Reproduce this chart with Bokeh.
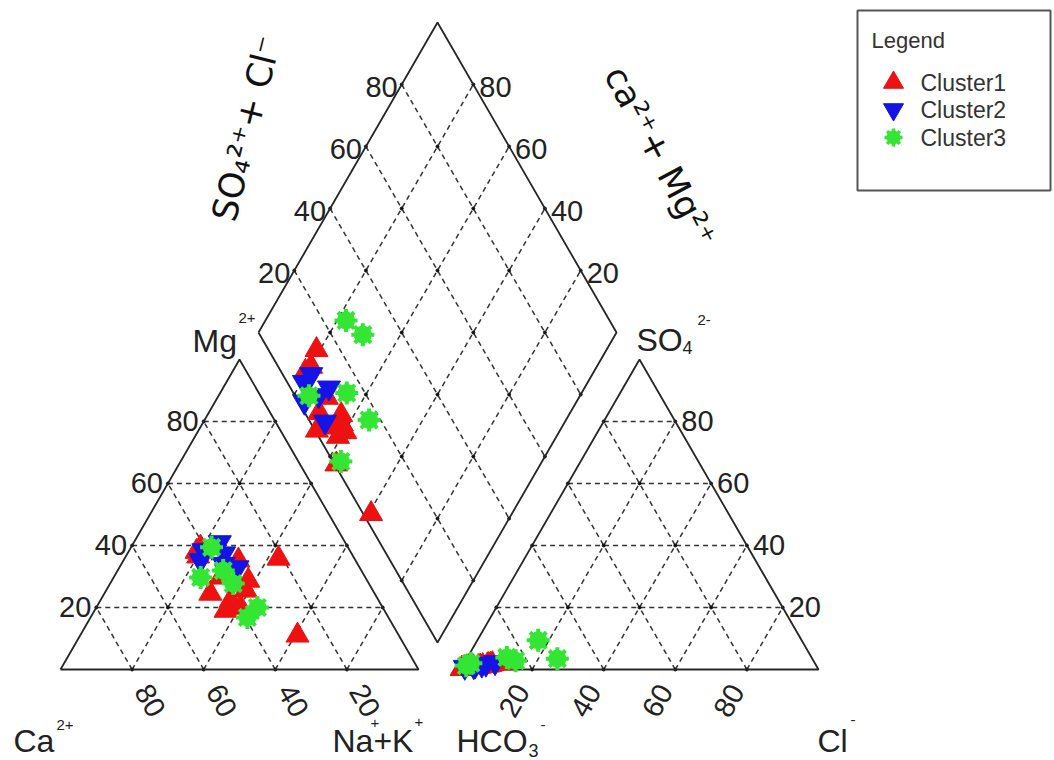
import numpy as np
from bokeh.plotting import figure
from bokeh.models import Range1d
from bokeh.core.properties import value
from bokeh.embed import file_html
from bokeh.resources import INLINE

# ---------------- data (percent of meq) ----------------
clusters = ["Cluster1", "Cluster2", "Cluster3"]

c1_ca   = [41.2, 43.0, 43.3, 45.9, 40.4, 32.7, 41.3, 44.4, 33.2, 35.5, 39.7, 21.2, 28.3]
c1_mg   = [39.4, 38.0, 36.5, 24.5, 29.7, 35.2, 22.3, 19.0, 28.7, 25.5, 20.0, 35.8, 11.0]
c1_nak  = [19.4, 19.0, 20.2, 29.6, 29.9, 32.1, 36.4, 36.6, 38.1, 39.0, 40.3, 43.0, 60.7]
c1_hco3 = [93.2, 86.6, 90.8, 91.4, 96.0, 99.5, 90.2, 94.0, 91.5, 94.6, 91.8, 99.5, 97.8]
c1_so4  = [1.2, 2.0, 1.6, 1.4, 0.8, 0.3, 1.8, 1.0, 1.5, 0.9, 1.4, 0.2, 0.8]
c1_cl   = [5.6, 11.4, 7.6, 7.2, 3.2, 0.2, 8.0, 5.0, 7.0, 4.5, 6.8, 0.3, 1.4]

c2_ca   = [40.9, 43.3, 35.0, 35.6, 37.4, 34.1]
c2_mg   = [38.4, 35.2, 41.0, 37.4, 34.0, 32.9]
c2_nak  = [20.7, 21.5, 24.0, 27.0, 28.6, 33.0]
c2_hco3 = [95.3, 92.0, 98.4, 93.3, 89.2, 95.8]
c2_so4  = [1.2, 1.8, 0.8, 1.5, 2.3, 1.0]
c2_cl   = [3.5, 6.2, 0.8, 5.2, 8.5, 3.2]

c3_ca   = [38.1, 38.6, 46.0, 37.9, 35.0, 39.4]
c3_mg   = [39.4, 31.9, 29.7, 27.7, 20.0, 16.8]
c3_nak  = [22.5, 29.5, 24.3, 34.4, 45.0, 43.8]
c3_hco3 = [73.6, 71.2, 96.1, 85.1, 83.2, 97.8]
c3_so4  = [9.4, 3.5, 2.0, 3.9, 2.8, 1.2]
c3_cl   = [17.0, 25.3, 1.9, 11.0, 14.0, 1.0]

tick_values = [20, 40, 60, 80]
tick_labels = ["20", "40", "60", "80"]

# ---------------- layout (screen px) ----------------
W, H = 1054, 760
S = 3.58                      # px per percent along a side
HT = S * np.sqrt(3) / 2       # px per percent in height
L_X0, BASE = 60, 669          # cation triangle, Ca corner
R_X0 = 460                    # anion triangle, HCO3 corner
D_LX, D_MID = 258, 332        # diamond left vertex

RED, BLUE, GREEN = "#ee1111", "#1414e6", "#33e633"
INK = "#222222"
FONT = "Liberation Sans"


def flip(py):
    return H - np.asarray(py, dtype=float)


def cat_xy(mg, nak):
    mg = np.asarray(mg, float); nak = np.asarray(nak, float)
    return L_X0 + S * (nak + mg / 2), flip(BASE - HT * mg)


def an_xy(so4, cl):
    so4 = np.asarray(so4, float); cl = np.asarray(cl, float)
    return R_X0 + S * (cl + so4 / 2), flip(BASE - HT * so4)


def dia_xy(u, v):  # u = SO4+Cl, v = Na+K
    u = np.asarray(u, float); v = np.asarray(v, float)
    return D_LX + S / 2 * (u + v), flip(D_MID - HT * u + HT * v)


def all_xy(mg, nak, so4, cl):
    cx, cy = cat_xy(mg, nak)
    ax, ay = an_xy(so4, cl)
    dx, dy = dia_xy(np.add(so4, cl), nak)
    return (np.concatenate([cx, ax, dx]).tolist(),
            np.concatenate([cy, ay, dy]).tolist())


p = figure(width=W, height=H, x_range=Range1d(0, W), y_range=Range1d(0, H),
           x_axis_type=None, y_axis_type=None, toolbar_location=None,
           output_backend="svg", min_border=0, outline_line_color=None,
           background_fill_color="white", border_fill_color="white")
p.grid.visible = False

# ---------------- grids ----------------
gx, gy = [], []
def seg(f, a, b):
    x, y = f([a[0], b[0]], [a[1], b[1]])
    gx.append(list(x)); gy.append(list(y))

for k in tick_values:
    seg(cat_xy, (k, 0), (k, 100 - k))
    seg(cat_xy, (0, k), (100 - k, k))
    seg(cat_xy, (0, 100 - k), (100 - k, 0))
    seg(an_xy, (k, 0), (k, 100 - k))
    seg(an_xy, (0, k), (100 - k, k))
    seg(an_xy, (0, 100 - k), (100 - k, 0))
    seg(dia_xy, (k, 0), (k, 100))
    seg(dia_xy, (0, k), (100, k))
p.multi_line(gx, gy, line_color="#333333", line_width=1.5, line_dash="5 4")

# intersection dots
steps = [0, 20, 40, 60, 80, 100]
ta, tb, da, db = [], [], [], []
for a in steps:
    for b in steps:
        if a + b <= 100 and not (a == 100 or b == 100 or (a == 0 and b == 0)):
            ta.append(a); tb.append(b)
        if (a, b) not in [(0, 0), (100, 0), (0, 100), (100, 100)]:
            da.append(a); db.append(b)
x1, y1 = cat_xy(ta, tb); x2, y2 = an_xy(ta, tb); x3, y3 = dia_xy(da, db)
p.scatter(np.concatenate([x1, x2, x3]), np.concatenate([y1, y2, y3]),
          size=3, color="#111111")

# ---------------- outlines ----------------
ox, oy = cat_xy([0, 0, 100, 0], [0, 100, 0, 0])
p.line(ox, oy, line_color="#262626", line_width=1.8)
ox, oy = an_xy([0, 0, 100, 0], [0, 100, 0, 0])
p.line(ox, oy, line_color="#262626", line_width=1.8)
ox, oy = dia_xy([0, 100, 100, 0, 0], [0, 0, 100, 100, 0])
p.line(ox, oy, line_color="#262626", line_width=1.8)

# ---------------- tick labels ----------------
tk = dict(text_font=value(FONT), text_font_size="29px", text_color=INK)
x, y = cat_xy(tick_values, [0] * 4)
p.text(x - 5, y, text=tick_labels, text_align="right", text_baseline="middle", **tk)
x, y = cat_xy([0] * 4, [100 - k for k in tick_values])
p.text(x + 18, y - 31, text=tick_labels, angle=-60, angle_units="deg",
       text_align="center", text_baseline="middle", **tk)
x, y = an_xy([0] * 4, tick_values)
p.text(x - 18, y - 31, text=tick_labels, angle=60, angle_units="deg",
       text_align="center", text_baseline="middle", **tk)
x, y = an_xy(tick_values, [100 - k for k in tick_values])
p.text(x + 6, y, text=tick_labels, text_align="left", text_baseline="middle", **tk)
x, y = dia_xy(tick_values, [0] * 4)
p.text(x - 4, y - 3, text=tick_labels, text_align="right", text_baseline="middle", **tk)
x, y = dia_xy([100] * 4, [100 - k for k in tick_values])
p.text(x + 6, y - 3, text=tick_labels, text_align="left", text_baseline="middle", **tk)

# ---------------- axis titles ----------------
big = dict(text_font=value(FONT), text_font_size="32px", text_color=INK,
           text_baseline="middle", text_align="left")
sub = dict(text_font=value(FONT), text_font_size="18px", text_color=INK,
           text_baseline="middle", text_align="left")
sup = dict(text_font=value(FONT), text_font_size="15px", text_color=INK,
           text_baseline="middle", text_align="left")
p.text([192], flip([340]), text=["Mg"], **big)
p.text([238], flip([317]), text=["2+"], **sup)
p.text([13], flip([740]), text=["Ca"], **big)
p.text([56], flip([724]), text=["2+"], **sup)
p.text([332], flip([740]), text=["Na+K"], **big)
p.text([370], flip([722]), text=["+"], **sup)
p.text([414], flip([721]), text=["+"], **sup)
p.text([456], flip([740]), text=["HCO"], **big)
p.text([528], flip([750]), text=["3"], **sub)
p.text([540], flip([724]), text=["-"], **sup)
p.text([817], flip([740]), text=["Cl"], **big)
p.text([850], flip([719]), text=["-"], **sup)
p.text([636], flip([339]), text=["SO"], **big)
p.text([682], flip([347]), text=["4"], **sub)
p.text([697], flip([319]), text=["2-"], **sup)

rot = dict(text_font=value("DejaVu Sans"), text_font_size="35px", text_color="#111111",
           text_align="center", text_baseline="middle", angle_units="deg")
p.text([246], flip([128]), text=["SO\u2084\u00b2\u207a+ Cl\u207b"], angle=76, **rot)
p.text([660], flip([156]), text=["ca\u00b2\u207a+ Mg\u00b2\u207a"], angle=-62, **rot)

# ---------------- samples ----------------
x, y = all_xy(c1_mg, c1_nak, c1_so4, c1_cl)
p.scatter(x, y, marker="triangle", size=23, fill_color=RED, line_color=RED)
x, y = all_xy(c2_mg, c2_nak, c2_so4, c2_cl)
p.scatter(x, y, marker="inverted_triangle", size=23, fill_color=BLUE, line_color=BLUE)
x, y = all_xy(c3_mg, c3_nak, c3_so4, c3_cl)
p.scatter(x, y, marker="circle", size=17, fill_color=GREEN, line_color=GREEN)
p.scatter(x, y, marker="asterisk", size=23, line_color=GREEN, line_width=4)

# ---------------- legend (drawn as a key box) ----------------
p.quad(left=[857], right=[1050], top=flip([10]), bottom=flip([190]),
       fill_color="white", line_color="#555555", line_width=2)
p.text([871], flip([40]), text=["Legend"], text_font=value(FONT), text_font_size="22px",
       text_color="#333333", text_baseline="middle", text_align="left")
key_y = flip([82, 109, 137])
p.scatter([893], [key_y[0]], marker="triangle", size=20, fill_color=RED, line_color=RED)
p.scatter([893], [key_y[1]], marker="inverted_triangle", size=20, fill_color=BLUE, line_color=BLUE)
p.scatter([893], [key_y[2]], marker="circle", size=13, fill_color=GREEN, line_color=GREEN)
p.scatter([893], [key_y[2]], marker="asterisk", size=18, line_color=GREEN, line_width=3.5)
p.text([920] * 3, key_y, text=clusters, text_font=value(FONT), text_font_size="23px",
       text_color="#333333", text_baseline="middle", text_align="left")

open("out.html", "w").write(file_html(p, INLINE))
